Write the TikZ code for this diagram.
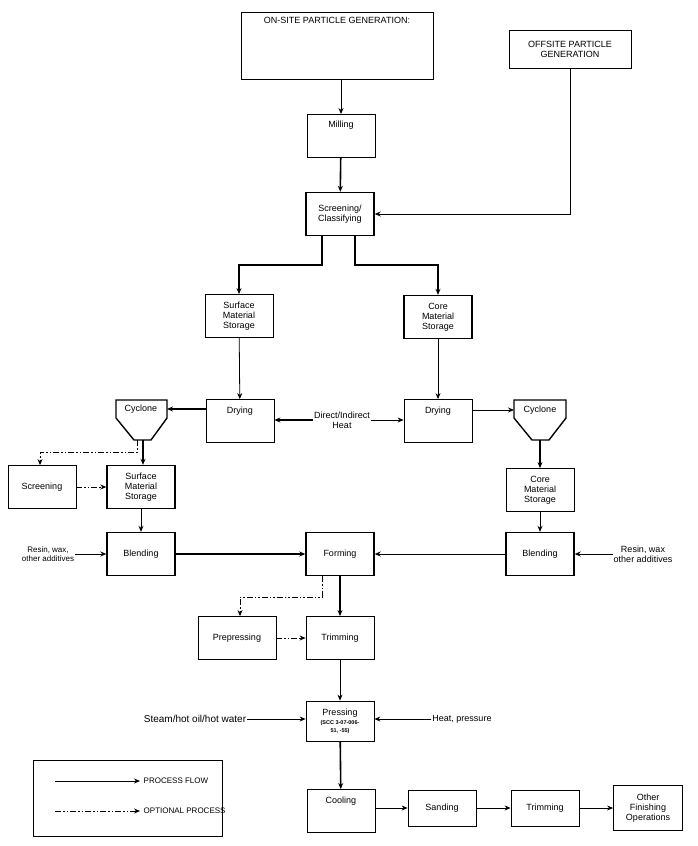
\documentclass[tikz,border=0pt]{standalone}
\usepackage{fontspec}
\setmainfont{Liberation Sans}
\usetikzlibrary{arrows.meta}
\usetikzlibrary{positioning}
\begin{document}
\begin{tikzpicture}[x=1pt,y=-1pt,>={Stealth[length=6pt,width=5pt]},font=\fontsize{9}{10}\selectfont]

    % Define styles
    \tikzset{box/.style={rectangle, draw, thick, fill=white, align=center, inner sep=1pt, minimum width=68pt, minimum height=43pt}}
    \tikzset{heavy/.style={box, line width=1.4pt}}
    \tikzset{flow/.style={->, thick}}
    \tikzset{bigflow/.style={->, line width=1.6pt}}
    \tikzset{opt/.style={->, thick, dash pattern=on 6pt off 2pt on 1.5pt off 2pt on 1.5pt off 2pt}}
    \tikzset{lbl/.style={align=center, inner sep=1pt}}

    \useasboundingbox (0,0) rectangle (698,846);

    % Particle sources
    \node[box, minimum width=192pt, minimum height=67pt] (onsite) at (337,45.5) {};
    \node[lbl, below=4pt of onsite.north] {ON-SITE PARTICLE GENERATION:};
    \node[box, minimum width=122pt, minimum height=38pt] (offsite) at (570,49) {OFFSITE PARTICLE\\GENERATION};

    \node[box, anchor=north, text height=8pt, text depth=24pt] (milling) at (341,114) {Milling};
    \node[heavy] (screen) at (340,214) {Screening/\\Classifying};

    % Storage and drying
    \node[box] (surfStore) at (239,316) {Surface\\Material\\Storage};
    \node[heavy] (coreStore) at (438,317) {Core\\Material\\Storage};
    \node[box, text depth=22pt] (dryL) at (240,421) {Drying};
    \node[box, text depth=22pt] (dryR) at (438,421) {Drying};
    \node[lbl] (heat) at (342,420) {Direct/Indirect\\Heat};

    % Cyclones
    \draw[line width=1.4pt, fill=white] (116,400) -- (167,400) -- (167,418) -- (151,440) -- (134,440) -- (116,418) -- cycle;
    \node[lbl] (cycL) at (141,409) {Cyclone};
    \coordinate (cycLa) at (143,440);
    \coordinate (cycLb) at (137,440);
    \draw[line width=1.4pt, fill=white] (514,400) -- (566,400) -- (566,418) -- (549,440) -- (532,440) -- (514,418) -- cycle;
    \node[lbl] (cycR) at (540,410) {Cyclone};
    \coordinate (cycRa) at (540,440);

    \node[box] (screening) at (42,487) {Screening};
    \node[heavy] (surfStore2) at (141,487) {Surface\\Material\\Storage};
    \node[box] (coreStore2) at (540,490) {Core\\Material\\Storage};

    % Blending and forming
    \node[heavy] (blendL) at (141,554) {Blending};
    \node[heavy] (forming) at (340,554) {Forming};
    \node[heavy] (blendR) at (540,554) {Blending};
    \node[lbl, font=\fontsize{8}{9}\selectfont] (resinL) at (48,554) {Resin, wax,\\other additives};
    \node[lbl] (resinR) at (643,554) {Resin, wax\\other additives};

    \node[box, minimum width=78pt] (prepress) at (237,638) {Prepressing};
    \node[box] (trim) at (340,638) {Trimming};
    \node[box, minimum height=40pt] (pressing) at (340,721) {Pressing\\[-1pt]{\fontsize{5.5}{6}\selectfont\bfseries (SCC 3-07-006-}\\[-2pt]{\fontsize{5.5}{6}\selectfont\bfseries 51, -55)}};
    \node[lbl, font=\fontsize{10}{11}\selectfont] (steam) at (195,719) {Steam/hot oil/hot water};
    \node[lbl] (heatPress) at (462,719) {Heat, pressure};

    % Finishing line
    \node[box, text depth=22pt] (cooling) at (341,811) {Cooling};
    \node[box, minimum height=36pt] (sanding) at (442,808) {Sanding};
    \node[box, minimum height=36pt] (trim2) at (545,808) {Trimming};
    \node[box, minimum width=69pt, minimum height=45pt] (finish) at (648,808) {Other\\Finishing\\Operations};

    % Flows
    \draw[flow] (onsite.south -| milling) -- (milling);
    \draw[bigflow] (milling) -- (screen);
    \draw[flow] (offsite.south) |- (screen.east);
    \draw[bigflow] ([xshift=-18pt]screen.south) |- (239,265) -- (surfStore);
    \draw[bigflow] ([xshift=15pt]screen.south) |- (438,265) -- (coreStore);
    \draw[flow] (surfStore) -- (dryL);
    \draw[flow] (coreStore) -- (dryR);
    \draw[bigflow] (heat.west) -- (dryL.east |- heat.west);
    \draw[flow] (heat.east) -- (dryR.west |- heat.east);
    \draw[bigflow] (dryL.west |- cycL) -- (167,409);
    \draw[flow] (dryR.east |- cycR) -- (514,410);
    \draw[bigflow] (cycLa) -- (surfStore2.north -| cycLa);
    \draw[opt] (cycLb) |- (40,452) -- (screening.north -| 40,0);
    \draw[opt] (screening) -- (surfStore2);
    \draw[bigflow] (cycRa) -- (coreStore2);
    \draw[flow] (surfStore2) -- (blendL);
    \draw[flow] (coreStore2) -- (blendR);
    \draw[flow] (resinL) -- (blendL);
    \draw[flow] (resinR) -- (blendR);
    \draw[bigflow] (blendL) -- (forming);
    \draw[flow] (blendR) -- (forming);
    \draw[bigflow] (forming) -- (trim);
    \draw[opt] ([xshift=-18pt]forming.south) |- (240,597) -- (prepress.north -| 240,0);
    \draw[opt] (prepress) -- (trim);
    \draw[flow] (trim) -- (pressing);
    \draw[flow] (steam) -- (pressing.west |- steam);
    \draw[flow] (heatPress) -- (pressing.east |- heatPress);
    \draw[bigflow] (pressing) -- (cooling);
    \draw[flow] (cooling.east |- sanding) -- (sanding);
    \draw[flow] (sanding) -- (trim2);
    \draw[flow] (trim2) -- (finish);

    % Legend
    \node[box, minimum width=189pt, minimum height=76pt] (legend) at (127.5,798) {};
    \coordinate (legA) at (55,781);
    \coordinate (legB) at (140,781);
    \coordinate (legC) at (55,811);
    \coordinate (legD) at (140,811);
    \draw[flow] (legA) -- (legB) node[right, font=\fontsize{8}{9}\selectfont] {PROCESS FLOW};
    \draw[opt] (legC) -- (legD) node[right, font=\fontsize{8}{9}\selectfont] {OPTIONAL PROCESS};

\end{tikzpicture}
\end{document}
